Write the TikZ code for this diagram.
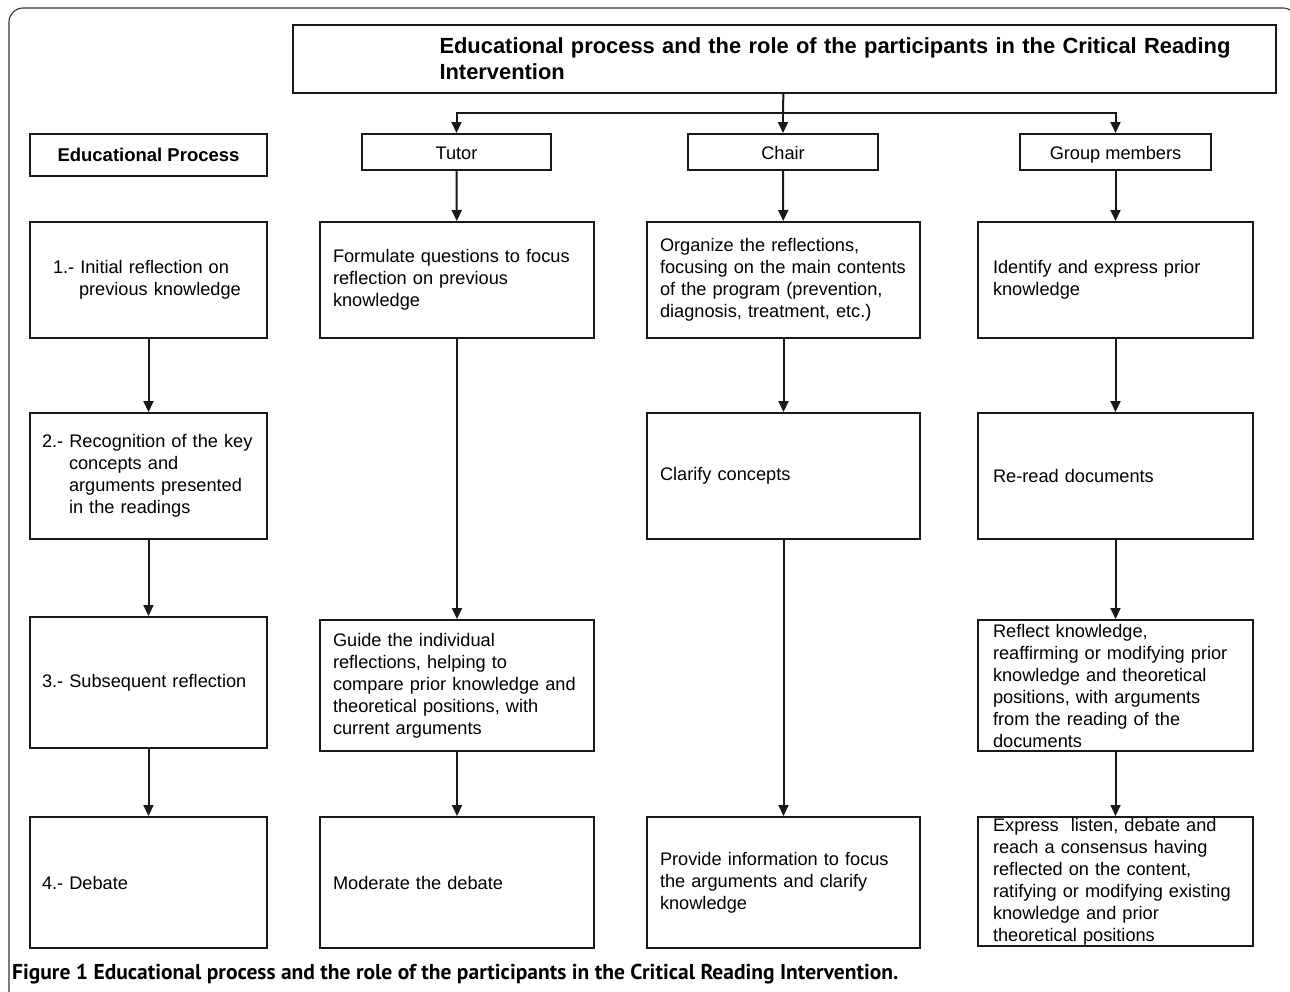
\documentclass[tikz,border=0pt]{standalone}
\usepackage{fontspec}
\setmainfont{Liberation Sans}
\newfontfamily\capfont{PT Sans}
\usepackage{tikz}
\usetikzlibrary{arrows.meta,positioning,calc}

\begin{document}
\begin{tikzpicture}[
  x=1pt, y=-1pt,
  font=\fontsize{18.2}{22}\selectfont,
  box/.style={rectangle, draw=black!90, line width=2pt, align=left, inner ysep=1pt},
  rolebox/.style={rectangle, draw=black!90, line width=2pt, align=center, minimum height=36pt, inner sep=0pt, text height=16pt, text depth=1pt},
  procbox/.style={box, minimum width=237pt, text width=213pt, inner xsep=12pt},
  tutbox/.style={box, minimum width=274pt, text width=248pt, inner xsep=13pt},
  chrbox/.style={box, minimum width=273pt, text width=247pt, inner xsep=13pt},
  grpbox/.style={box, minimum width=275pt, text width=245pt, inner xsep=15pt},
  arrow/.style={-{Triangle[length=11pt,width=10pt]}, line width=2pt, draw=black!90},
  frame/.style={draw=black!80, line width=1.1pt, rounded corners=14pt}
]
\useasboundingbox (0,0) rectangle (1290,991);
\draw[frame] (9,1000) -- (9,8) -- (1297,8) -- (1297,1000);

% heading and the three roles
\node[box, minimum width=983pt, minimum height=68pt, text width=955pt, inner xsep=14pt,
  font=\fontsize{21.9}{26}\selectfont\bfseries] (head) at (784,59)
  {\hspace*{133pt}Educational process and the role of the participants in the Critical Reading\\
   \hspace*{133pt}Intervention};
\node[box, align=center, minimum width=237pt, minimum height=42pt, font=\fontsize{18.5}{22}\selectfont\bfseries] (proc) at (148.5,155) {Educational Process};
\node[rolebox, minimum width=189pt] (tutor) at (456.5,152) {Tutor};
\node[rolebox, minimum width=190pt] (chair) at (783,152) {Chair};
\node[rolebox, minimum width=191pt] (group) at (1115.5,152) {Group members};
\coordinate (split) at (783,113);

% educational process
\node[procbox, minimum height=116pt] (proc1) at (148.5,280) {\hspace*{11pt}1.- Initial reflection on\\\hspace*{37pt}previous knowledge};
\node[procbox, minimum height=126pt] (proc2) at (148.5,476) {2.- Recognition of the key\\\hspace*{27pt}concepts and\\\hspace*{27pt}arguments presented\\\hspace*{27pt}in the readings};
\node[procbox, minimum height=131pt] (proc3) at (148.5,682.5) {3.- Subsequent reflection};
\node[procbox, minimum height=131pt] (proc4) at (148.5,882.5) {4.- Debate};

% tutor
\node[tutbox, minimum height=116pt] (tut1) at (457,280) {Formulate questions to focus\\reflection on previous\\knowledge};
\node[tutbox, minimum height=131pt] (tut3) at (457,685.5) {Guide the individual\\reflections, helping to\\compare prior knowledge and\\theoretical positions, with\\current arguments};
\node[tutbox, minimum height=131pt] (tut4) at (457,882.5) {Moderate the debate};

% chair
\node[chrbox, minimum height=116pt] (chr1) at (783.5,280) {Organize the reflections,\\focusing on the main contents\\of the program (prevention,\\diagnosis, treatment, etc.)};
\node[chrbox, minimum height=126pt] (chr2) at (783.5,476) {Clarify concepts};
\node[chrbox, minimum height=131pt] (chr4) at (783.5,882.5) {Provide information to focus\\the arguments and clarify\\knowledge};

% group members
\node[grpbox, minimum height=116pt] (grp1) at (1115.5,280) {Identify and express prior\\knowledge};
\node[grpbox, minimum height=126pt] (grp2) at (1115.5,476) {Re-read documents};
\node[grpbox, minimum height=131pt] (grp3) at (1115.5,685.5) {Reflect knowledge,\\reaffirming or modifying prior\\knowledge and theoretical\\positions, with arguments\\from the reading of the\\documents};
\node[grpbox, minimum height=129pt] (grp4) at (1115.5,881.5) {Express\ \ listen, debate and\\reach a consensus having\\reflected on the content,\\ratifying or modifying existing\\knowledge and prior\\theoretical positions};

\node[anchor=west, inner sep=0pt, font=\capfont\bfseries\fontsize{21.5}{24}\selectfont] (caption) at (12,974)
  {Figure 1 Educational process and the role of the participants in the Critical Reading Intervention.};

\draw[line width=2pt, draw=black!90] (head) -- (split);
\draw[arrow] (split) -| (tutor);
\draw[arrow] (split) -- (chair);
\draw[arrow] (split) -| (group);

\draw[arrow] (proc1) -- (proc2);
\draw[arrow] (proc2) -- (proc3);
\draw[arrow] (proc3) -- (proc4);

\draw[arrow] (tutor) -- (tut1);
\draw[arrow] (tut1) -- (tut3);
\draw[arrow] (tut3) -- (tut4);

\draw[arrow] (chair) -- (chr1);
\draw[arrow] (chr1) -- (chr2);
\draw[arrow] (chr2) -- (chr4);

\draw[arrow] (group) -- (grp1);
\draw[arrow] (grp1) -- (grp2);
\draw[arrow] (grp2) -- (grp3);
\draw[arrow] (grp3) -- (grp4);

\end{tikzpicture}
\end{document}
